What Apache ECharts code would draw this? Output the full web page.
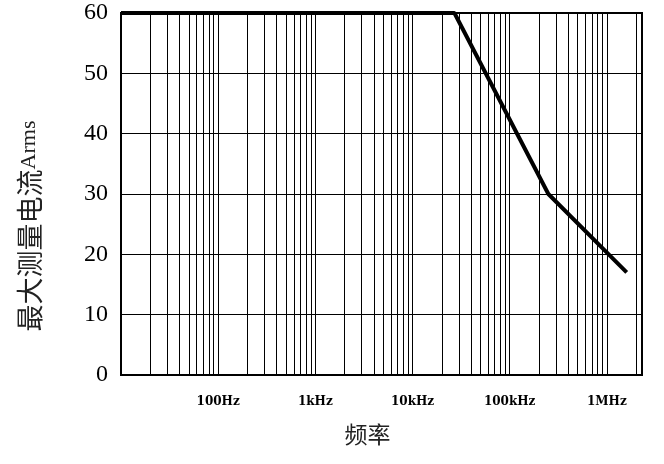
<!DOCTYPE html>
<html>
<head>
<meta charset="utf-8">
<script src="https://cdn.jsdelivr.net/npm/echarts@6/dist/echarts.min.js"></script>
<style>html,body{margin:0;padding:0;background:#fff;}#c{width:664px;height:464px;}</style>
</head>
<body>
<div id="c"></div>
<script>
// Frequency (Hz) and maximum measurable current (Arms)
var freqs = [10, 27000, 250000, 1600000];
var currents = [60, 60, 30, 17];
// x tick labels at decades
var tickValues = [100, 1000, 10000, 100000, 1000000];
var tickLabels = ['100Hz', '1kHz', '10kHz', '100kHz', '1MHz'];
// vertical grid lines (1..9 x each decade)
var gridFreqs = [];
[10, 100, 1000, 10000, 100000, 1000000].forEach(function (d) {
  for (var k = 1; k <= 9; k++) { if (d * k <= 2300000) gridFreqs.push(d * k); }
});
var yTicks = [0, 10, 20, 30, 40, 50, 60];

var chart = echarts.init(document.getElementById('c'));
var option = {
  animation: false,
  backgroundColor: '#fff',
  grid: { left: 121, right: 22, top: 13, bottom: 89, show: true, borderColor: '#000', borderWidth: 2 },
  xAxis: {
    type: 'log', min: 10, max: 2300000, logBase: 10,
    name: '频率', nameLocation: 'middle', nameGap: 48,
    nameTextStyle: { fontFamily: 'Noto Sans CJK SC', fontSize: 23, color: '#222', padding: [0, 28, 0, 0] },
    axisLine: { show: false }, axisTick: { show: false },
    splitLine: { show: false },
    axisLabel: {
      margin: 21, fontFamily: 'DejaVu Serif', fontWeight: 'bold', fontSize: 12, color: '#000',
      formatter: function (v) {
        for (var i = 0; i < tickValues.length; i++) { if (Math.abs(v - tickValues[i]) / tickValues[i] < 1e-6) return tickLabels[i]; }
        return '';
      }
    }
  },
  yAxis: {
    type: 'value', min: yTicks[0], max: yTicks[yTicks.length - 1], interval: 10,
    name: '{a|最大测量电流}{b|Arms}', nameLocation: 'middle', nameGap: 78, nameRotate: 90,
    nameTextStyle: {
      color: '#222', padding: [0, 64, 0, 0],
      rich: {
        a: { fontFamily: 'Noto Sans CJK SC', fontSize: 27, color: '#222' },
        b: { fontFamily: 'Liberation Serif', fontSize: 22, color: '#222' }
      }
    },
    axisLine: { show: false }, axisTick: { show: false },
    splitLine: { show: true, lineStyle: { color: '#000', width: 1 } },
    axisLabel: { margin: 13, fontFamily: 'Liberation Serif', fontSize: 24, color: '#000' }
  },
  series: [
    {
      type: 'line', data: [], z: 1, silent: true,
      markLine: {
        silent: true, symbol: ['none', 'none'], label: { show: false }, animation: false,
        lineStyle: { color: '#000', width: 1, type: 'solid' },
        data: gridFreqs.map(function (f) { return { xAxis: f }; })
      }
    },
    {
      type: 'line', z: 5, showSymbol: false, symbol: 'none',
      lineStyle: { color: '#000', width: 4 },
      data: freqs.map(function (f, i) { return [f, currents[i]]; })
    }
  ]
};
chart.setOption(option);
</script>
</body>
</html>
